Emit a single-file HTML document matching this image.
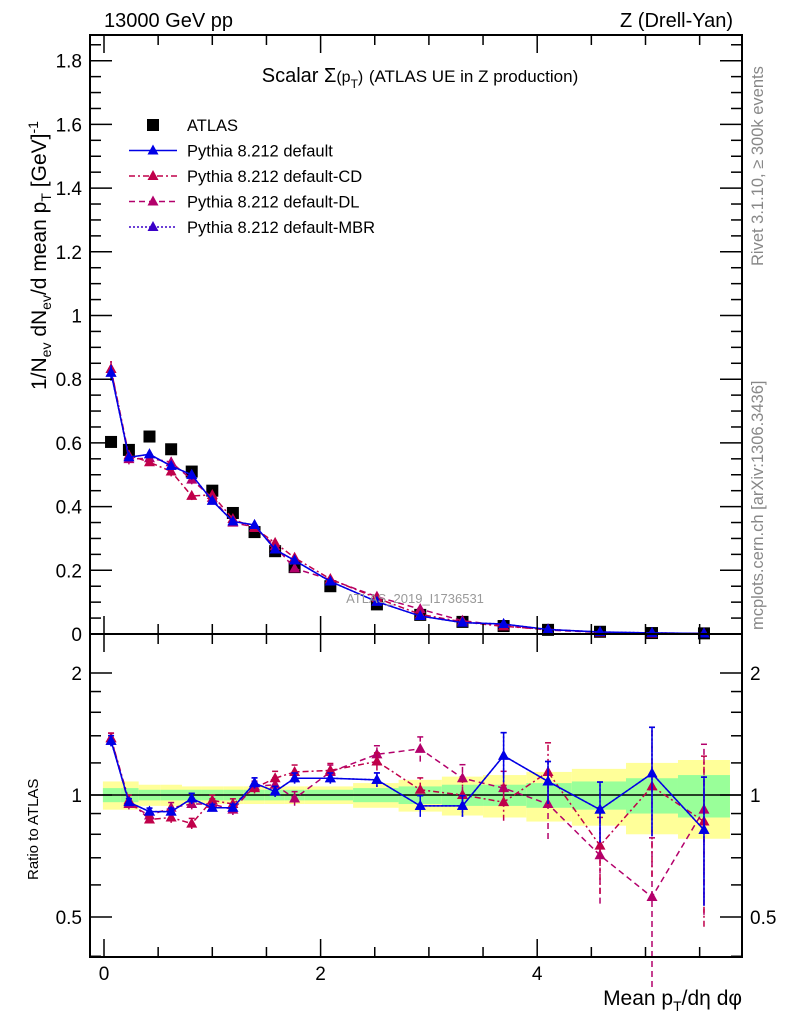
<!DOCTYPE html>
<html><head><meta charset="utf-8"><style>
html,body{margin:0;padding:0;background:#fff;}
svg{display:block;font-family:"Liberation Sans",sans-serif;}
</style></head><body>
<svg id="chart" width="786" height="1024" viewBox="0 0 786 1024" xmlns="http://www.w3.org/2000/svg">
<g id="bands"></g>
<g id="main"></g>
<g id="ratio"></g>
<g id="axes"></g>
<text x="104" y="27" font-size="20">13000 GeV pp</text>
<text x="733" y="27" font-size="20" text-anchor="end">Z (Drell-Yan)</text>
<text x="420" y="82" font-size="20" text-anchor="middle">Scalar Σ<tspan font-size="16">(p</tspan><tspan font-size="12" dy="6">T</tspan><tspan font-size="16" dy="-6">)</tspan> <tspan font-size="17">(ATLAS UE in Z production)</tspan></text>
<text x="415" y="603" font-size="13" fill="#999" text-anchor="middle">ATLAS_2019_I1736531</text>
<text transform="translate(763,266) rotate(-90)" font-size="16.5" fill="#888">Rivet 3.1.10, ≥ 300k events</text>
<text transform="translate(763,630) rotate(-90)" font-size="16.5" fill="#888">mcplots.cern.ch [arXiv:1306.3436]</text>
<text transform="translate(46,390) rotate(-90)" font-size="21">1/N<tspan font-size="14" dy="5">ev</tspan><tspan dy="-5"> dN</tspan><tspan font-size="14" dy="5">ev</tspan><tspan dy="-5">/d mean p</tspan><tspan font-size="14" dy="5">T</tspan><tspan dy="-5">  [GeV]</tspan><tspan font-size="14" dy="-8">-1</tspan></text>
<text transform="translate(38,880) rotate(-90)" font-size="15">Ratio to ATLAS</text>
<text x="742" y="1005" font-size="21" text-anchor="end">Mean p<tspan font-size="14" dy="6">T</tspan><tspan dy="-6">/dη dφ</tspan></text>
<g id="legend"></g>
</svg>
<script>
const xs=[0.065,0.23,0.42,0.62,0.81,1.0,1.19,1.39,1.58,1.76,2.09,2.52,2.92,3.31,3.69,4.1,4.58,5.06,5.54];
const edges=[-0.01,0.15,0.32,0.52,0.72,0.9,1.1,1.29,1.48,1.67,1.85,2.3,2.72,3.12,3.5,3.9,4.32,4.82,5.3,5.78];
const atlas=[0.603,0.578,0.62,0.58,0.51,0.45,0.38,0.32,0.26,0.21,0.15,0.093,0.06,0.038,0.025,0.013,0.007,0.003,0.002];
const rDefault=[1.36,0.96,0.91,0.91,0.98,0.93,0.93,1.07,1.02,1.10,1.10,1.09,0.94,0.94,1.25,1.08,0.92,1.13,0.82];
const rCD=[1.38,0.97,0.87,0.88,0.85,0.97,0.95,1.04,1.10,1.14,1.15,1.21,1.03,1.00,0.96,1.14,0.75,1.05,0.86];
const rDL=[1.38,0.95,0.89,0.93,0.95,0.95,0.92,1.05,1.06,0.98,1.14,1.26,1.30,1.10,1.04,0.95,0.71,0.56,0.92];
const errDefault=[0.03,0.02,0.02,0.02,0.03,0.02,0.02,0.03,0.03,0.03,0.03,0.04,0.06,0.06,0.14,0.12,0.17,0.3,0.35];
const errMC=[0.03,0.03,0.02,0.03,0.03,0.03,0.03,0.03,0.04,0.04,0.04,0.05,0.07,0.08,0.1,0.18,0.24,0.4,0.45];
const greenW=[0.04,0.04,0.03,0.03,0.03,0.03,0.03,0.03,0.03,0.03,0.03,0.04,0.05,0.06,0.06,0.07,0.08,0.1,0.12];
const yellowW=[0.08,0.08,0.06,0.06,0.05,0.05,0.05,0.05,0.05,0.05,0.05,0.07,0.09,0.11,0.12,0.14,0.16,0.2,0.22];
const yTicks=[0,0.2,0.4,0.6,0.8,1,1.2,1.4,1.6,1.8];
const xTicks=[0,2,4];
const rTicks=[0.5,1,2];

const NS="http://www.w3.org/2000/svg";
const X0=90,X1=742,Y0=35,YM=634,YR=957;
const sx=v=>104+v*108.3;
const sy=v=>634-v*318.5;
const sr=v=>795-122*Math.log2(v);
function mk(p,tag,at){const e=document.createElementNS(NS,tag);for(const k in at)e.setAttribute(k,at[k]);p.appendChild(e);return e;}
const bands=document.getElementById('bands'),main=document.getElementById('main'),ratio=document.getElementById('ratio'),axes=document.getElementById('axes'),legend=document.getElementById('legend');

for(let i=0;i<xs.length;i++){
  const xa=sx(edges[i]),xb=sx(edges[i+1]);
  const y=mk(bands,'rect',{x:xa,y:sr(1+yellowW[i]),width:xb-xa,height:sr(1-yellowW[i])-sr(1+yellowW[i]),fill:'#ffff99'});
  
  
  const g=mk(bands,'rect',{x:xa,y:sr(1+greenW[i]),width:xb-xa,height:sr(1-greenW[i])-sr(1+greenW[i]),fill:'#99ff99'});
  
  
}
const one=mk(ratio,'line',{x1:X0,x2:X1,y1:sr(1),y2:sr(1),stroke:'#000','stroke-width':1.5});



function tri(p,x,y,c){return mk(p,'path',{d:`M${x},${y-6}L${x+5.5},${y+4}L${x-5.5},${y+4}Z`,fill:c});}
function series(name,rs,errs,color,dash){
  const gm=mk(main,'g',{});
  
  
  const gr=mk(ratio,'g',{});
  
  
  const pm=xs.map((x,i)=>sx(x)+','+sy(rs[i]*atlas[i])).join(' ');
  const pr=xs.map((x,i)=>sx(x)+','+sr(rs[i])).join(' ');
  mk(gm,'polyline',{points:pm,fill:'none',stroke:color,'stroke-width':1.5,'stroke-dasharray':dash});
  mk(gr,'polyline',{points:pr,fill:'none',stroke:color,'stroke-width':1.5,'stroke-dasharray':dash});
  xs.forEach((x,i)=>{
    const v=rs[i]*atlas[i],e=errs[i];
    const X=sx(x);
    mk(gm,'line',{x1:X,x2:X,y1:sy(v*(1-e)),y2:sy(v*(1+e)),stroke:color,'stroke-width':1.5,'stroke-dasharray':dash});
    const a=mk(gm,'g',{});
    tri(a,X,sy(v),color);
    
    
    mk(gr,'line',{x1:X,x2:X,y1:sr(Math.max(0.3,rs[i]-e*rs[i])),y2:sr(rs[i]+e*rs[i]),stroke:color,'stroke-width':1.5,'stroke-dasharray':dash});
    mk(gr,'line',{x1:X-3,x2:X+3,y1:sr(rs[i]+e*rs[i]),y2:sr(rs[i]+e*rs[i]),stroke:color,'stroke-width':1.5});
    const b=mk(gr,'g',{});
    tri(b,X,sr(rs[i]),color);
    
    
  });
}
xs.forEach((x,i)=>{
  const r=mk(main,'rect',{x:sx(x)-6,y:sy(atlas[i])-6,width:12,height:12,fill:'#000'});
  
  
});
series('default-dl',rDL,errMC,'#b3006b','6,4');
series('default-cd',rCD,errMC,'#c0004a','6,3,2,3');
series('default-mbr',rDefault,errDefault,'#3a00c8','2,2');
series('default',rDefault,errDefault,'#0000e6','');

mk(axes,'rect',{x:X0,y:Y0,width:X1-X0,height:YM-Y0,fill:'none',stroke:'#000','stroke-width':2});
mk(axes,'rect',{x:X0,y:YM,width:X1-X0,height:YR-YM,fill:'none',stroke:'#000','stroke-width':2});
for(let v=0;v<=1.86;v+=0.05){const Y=sy(v);const big=Math.abs(v/0.2-Math.round(v/0.2))<1e-6;
  mk(axes,'line',{x1:X0,x2:X0+(big?22:11),y1:Y,y2:Y,stroke:'#000','stroke-width':1.5});
  mk(axes,'line',{x1:X1,x2:X1-(big?22:11),y1:Y,y2:Y,stroke:'#000','stroke-width':1.5});}
yTicks.forEach(v=>{const t=mk(axes,'text',{x:82,y:sy(v)+7,'font-size':19,'text-anchor':'end'});t.textContent=String(v);
  
  });
for(let v=0;v<=5.9;v+=0.5){const X=sx(v);const big=v%2===0;
  [[Y0,1],[YM,-1],[YM,1],[YR,-1]].forEach(([y,d])=>mk(axes,'line',{x1:X,x2:X,y1:y,y2:y+d*(big?18:10),stroke:'#000','stroke-width':1.5}));}
xTicks.forEach(v=>{const t=mk(axes,'text',{x:sx(v),y:980,'font-size':19,'text-anchor':'middle'});t.textContent=String(v);
  
  });
[0.4,0.5,0.6,0.7,0.8,0.9,1,1.2,1.4,1.6,1.8,2].forEach(v=>{const Y=sr(v);if(Y<YM||Y>YR)return;const big=rTicks.includes(v);
  mk(axes,'line',{x1:X0,x2:X0+(big?22:11),y1:Y,y2:Y,stroke:'#000','stroke-width':1.5});
  mk(axes,'line',{x1:X1,x2:X1-(big?22:11),y1:Y,y2:Y,stroke:'#000','stroke-width':1.5});});
rTicks.forEach(v=>{const t=mk(axes,'text',{x:82,y:sr(v)+7,'font-size':19,'text-anchor':'end'});t.textContent=String(v);
  
  
  const t2=mk(axes,'text',{x:750,y:sr(v)+7,'font-size':19});t2.textContent=String(v);
  
  });
const leg=[['ATLAS',null,''],['Pythia 8.212 default','#0000e6',''],['Pythia 8.212 default-CD','#c0004a','6,3,2,3'],['Pythia 8.212 default-DL','#b3006b','6,4'],['Pythia 8.212 default-MBR','#3a00c8','2,2']];
leg.forEach((l,i)=>{const Y=125+i*25.5;const g=mk(legend,'g',{});
  
  
  if(!l[1])mk(g,'rect',{x:147,y:Y-6,width:12,height:12,fill:'#000'});
  else{mk(g,'line',{x1:129,x2:177,y1:Y,y2:Y,stroke:l[1],'stroke-width':1.5,'stroke-dasharray':l[2]});tri(g,153,Y,l[1]);}
  const t=mk(g,'text',{x:187,y:Y+6,'font-size':16.5});t.textContent=l[0];});
</script>
</body></html>
